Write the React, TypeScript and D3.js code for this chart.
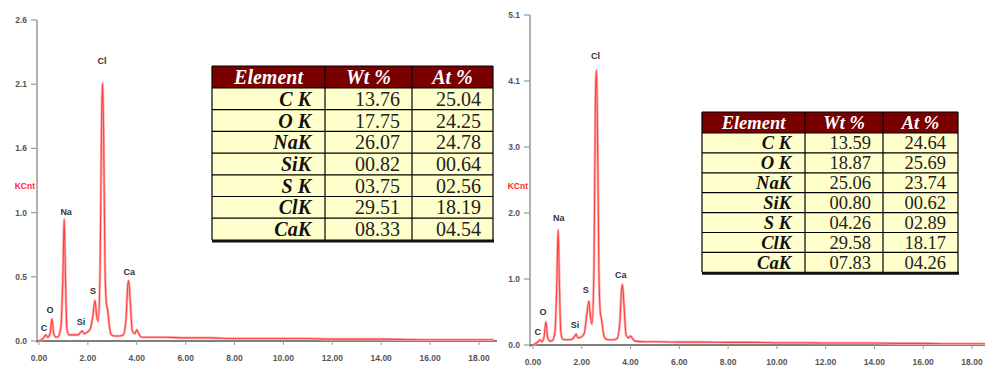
import * as d3 from 'd3'

// energy (keV) sample points shared by both spectra
const energy = [
  0, 0.1, 0.2, 0.28, 0.36, 0.45, 0.53, 0.6, 0.7, 0.8,
  0.9, 0.98, 1.03, 1.08, 1.14, 1.22, 1.4, 1.6, 1.7, 1.77,
  1.84, 1.96, 2.1, 2.2, 2.29, 2.36, 2.42, 2.5, 2.56, 2.6,
  2.64, 2.7, 2.76, 2.81, 2.88, 2.96, 3.1, 3.3, 3.45, 3.56,
  3.63, 3.67, 3.73, 3.82, 3.92, 4.0, 4.08, 4.2, 4.6, 5.2,
  6, 7, 8, 9, 10, 11, 12, 13, 14, 15,
  16, 17, 18, 18.6,
]

// KCnt, left spectrum
const countsA = [
  0.0, 0.01, 0.03, 0.05, 0.03, 0.06, 0.18, 0.06, 0.03, 0.04,
  0.12, 0.55, 0.99, 0.55, 0.1, 0.05, 0.05, 0.05, 0.07, 0.08,
  0.06, 0.07, 0.1, 0.2, 0.33, 0.2, 0.16, 0.6, 1.8, 2.09,
  1.75, 0.6, 0.3, 0.25, 0.12, 0.05, 0.04, 0.04, 0.05, 0.18,
  0.45, 0.49, 0.33, 0.08, 0.06, 0.09, 0.06, 0.03, 0.03, 0.03,
  0.025, 0.025, 0.02, 0.02, 0.02, 0.02, 0.015, 0.015, 0.015, 0.012,
  0.01, 0.01, 0.01, 0.01,
]

// KCnt, right spectrum
const countsB = [
  0.0, 0.02, 0.05, 0.08, 0.05, 0.12, 0.36, 0.12, 0.06, 0.07,
  0.2, 1.0, 1.78, 1.0, 0.2, 0.09, 0.08, 0.09, 0.13, 0.17,
  0.11, 0.12, 0.18, 0.45, 0.68, 0.42, 0.32, 1.2, 3.8, 4.25,
  3.5, 1.2, 0.5, 0.4, 0.2, 0.1, 0.08, 0.08, 0.1, 0.35,
  0.85, 0.94, 0.62, 0.15, 0.11, 0.14, 0.1, 0.06, 0.05, 0.05,
  0.045, 0.045, 0.04, 0.04, 0.035, 0.035, 0.03, 0.03, 0.03, 0.025,
  0.025, 0.02, 0.02, 0.02,
]

const xTicks = [0, 2, 4, 6, 8, 10, 12, 14, 16, 18]
const yTicksA = ['0.0', '0.5', '1.0', '1.6', '2.1', '2.6']
const yTicksB = ['0.0', '1.0', '2.0', '3.0', '4.1', '5.1']
const yMaxA = 2.6
const yMaxB = 5.1

const peakNames = ['C', 'O', 'Na', 'Si', 'S', 'Cl', 'Ca']
const peakEnergyA = [0.2, 0.45, 1.11, 1.72, 2.21, 2.58, 3.69]
const peakHeightA = [0.105, 0.25, 1.05, 0.155, 0.405, 2.27, 0.56]
const peakEnergyB = [0.19, 0.41, 1.06, 1.72, 2.16, 2.56, 3.6]
const peakHeightB = [0.2, 0.52, 1.97, 0.31, 0.85, 4.47, 1.08]

const tableHeader = ['Element', 'Wt %', 'At %']
const elements = ['C K', 'O K', 'NaK', 'SiK', 'S K', 'ClK', 'CaK']
const wtA = ['13.76', '17.75', '26.07', '00.82', '03.75', '29.51', '08.33']
const atA = ['25.04', '24.25', '24.78', '00.64', '02.56', '18.19', '04.54']
const wtB = ['13.59', '18.87', '25.06', '00.80', '04.26', '29.58', '07.83']
const atB = ['24.64', '25.69', '23.74', '00.62', '02.89', '18.17', '04.26']

const sans = 'Arial, "Liberation Sans", sans-serif'
const serif = '"Times New Roman", "Liberation Serif", serif'

function Spectrum({ axisX, x0, x18, xEnd, y0, yTop, yMax, counts, yTicks, labelE, labelH }) {
  const x = d3.scaleLinear().domain([0, 18]).range([x0, x18])
  const y = d3.scaleLinear().domain([0, yMax]).range([y0, yTop])
  const line = d3.line<number>()
    .x((_, i) => x(energy[i]))
    .y((d) => y(d))
    .curve(d3.curveMonotoneX)

  return (
    <g>
      {/* axes */}
      <line x1={axisX} x2={axisX} y1={yTop} y2={y0 + 2} stroke='#999' strokeWidth={1.5} />
      <line x1={axisX} x2={xEnd} y1={y0} y2={y0} stroke='#555' strokeWidth={1.5} />
      {yTicks.map((t, i) => {
        const yy = y((i * yMax) / 5)
        return (
          <g key={t}>
            <line x1={axisX - 6} x2={axisX} y1={yy} y2={yy} stroke='#999' strokeWidth={1.2} />
            <text x={axisX - 10} y={yy} dy='0.35em' textAnchor='end' fontSize={8.5}
              fontWeight='bold' fill='#555' fontFamily={sans}>{t}</text>
          </g>
        )
      })}
      {xTicks.map((t) => (
        <g key={t}>
          <line x1={x(t)} x2={x(t)} y1={y0} y2={y0 + 4} stroke='#999' strokeWidth={1} />
          <text x={x(t)} y={y0 + 17} dy='0.35em' textAnchor='middle' fontSize={8.5}
            fontWeight='bold' fill='#555' fontFamily={sans}>{t.toFixed(2)}</text>
        </g>
      ))}
      <text x={axisX - 2} y={y(yMax * 0.5) + 6} dy='0.35em' textAnchor='end' fontSize={8.5}
        fontWeight='bold' fill='#ff2a2a' fontFamily={sans}>KCnt</text>

      {/* spectrum */}
      <path d={line(counts) ?? ''} fill='none' stroke='#ffb0b0' strokeWidth={2.6} />
      <path d={line(counts) ?? ''} fill='none' stroke='#ff4040' strokeWidth={1.1} />

      {/* peak labels */}
      {peakNames.map((n, i) => (
        <text key={n} x={x(labelE[i])} y={y(labelH[i])} dy='0.35em' textAnchor='middle'
          fontSize={9} fontWeight='bold' fill='#333' fontFamily={sans}>{n}</text>
      ))}
    </g>
  )
}

function Table({ left, top, colW, headH, rowH, fontSize, wt, at }) {
  const cols = [left, left + colW[0], left + colW[0] + colW[1], left + colW[0] + colW[1] + colW[2]]
  const width = cols[3] - left
  const height = headH + rowH * elements.length
  const rowY = (i) => top + headH + i * rowH
  return (
    <g>
      <rect x={left} y={top} width={width} height={height} fill='#ffffcc' />
      <rect x={left} y={top} width={width} height={headH} fill='#7a0000' />
      {tableHeader.map((h, j) => (
        <text key={h} x={(cols[j] + cols[j + 1]) / 2} y={top + headH / 2} dy='0.35em'
          textAnchor='middle' fontSize={fontSize} fontWeight='bold' fontStyle='italic'
          fill='#fff' fontFamily={serif}>{h}</text>
      ))}
      {elements.map((el, i) => (
        <g key={el}>
          <line x1={left} x2={cols[3]} y1={rowY(i)} y2={rowY(i)} stroke='#000' strokeWidth={1.2} />
          <text x={cols[1] - 14} y={rowY(i) + rowH / 2} dy='0.35em' textAnchor='end'
            fontSize={fontSize} fontWeight='bold' fontStyle='italic' fill='#111'
            fontFamily={serif}>{el}</text>
          <text x={cols[2] - 12} y={rowY(i) + rowH / 2} dy='0.35em' textAnchor='end'
            fontSize={fontSize} fill='#222' fontFamily={serif}>{wt[i]}</text>
          <text x={cols[3] - 12} y={rowY(i) + rowH / 2} dy='0.35em' textAnchor='end'
            fontSize={fontSize} fill='#222' fontFamily={serif}>{at[i]}</text>
        </g>
      ))}
      {cols.map((cx, j) => (
        <line key={j} x1={cx} x2={cx} y1={top} y2={top + height} stroke='#000' strokeWidth={1.2} />
      ))}
      <line x1={left} x2={cols[3]} y1={top} y2={top} stroke='#000' strokeWidth={1.2} />
      <line x1={left} x2={cols[3] + 1} y1={top + height + 1} y2={top + height + 1} stroke='#111' strokeWidth={3} />
    </g>
  )
}

export default function App() {
  return (
    <svg width={985} height={367} style={{ position: 'absolute', left: 0, top: 0, background: '#fff' }}>
      <Spectrum axisX={37} x0={39} x18={479} xEnd={497} y0={341} yTop={20} yMax={yMaxA}
        counts={countsA} yTicks={yTicksA} labelE={peakEnergyA} labelH={peakHeightA} />
      <Spectrum axisX={530} x0={533} x18={972} xEnd={985} y0={345} yTop={15} yMax={yMaxB}
        counts={countsB} yTicks={yTicksB} labelE={peakEnergyB} labelH={peakHeightB} />
      <Table left={212} top={66} colW={[113, 87, 81]} headH={22} rowH={21.7} fontSize={20}
        wt={wtA} at={atA} />
      <Table left={702} top={112} colW={[103, 78, 75]} headH={21} rowH={19.9} fontSize={18.5}
        wt={wtB} at={atB} />
    </svg>
  )
}
